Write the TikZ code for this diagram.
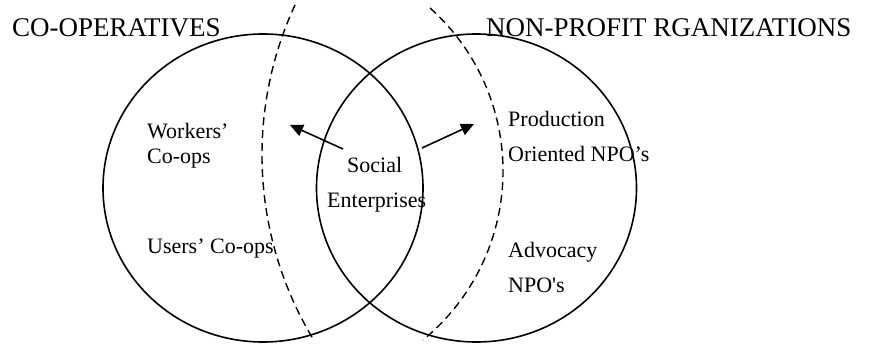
\documentclass[tikz,border=0pt]{standalone}
\usepackage{fontspec}
\setmainfont{Liberation Serif}
\usetikzlibrary{arrows.meta}
\begin{document}
\begin{tikzpicture}[x=1pt,y=1pt,
  ring/.style={line width=1.6pt},
  divider/.style={line width=1.4pt, dash pattern=on 8pt off 5pt},
  pointer/.style={line width=1.6pt,-{Triangle[length=13pt,width=12pt]}},
  big/.style={font=\fontsize{27}{31}\selectfont, inner sep=0pt, anchor=base west},
  small/.style={font=\fontsize{22}{26}\selectfont, inner sep=0pt, anchor=base west}]
\useasboundingbox (0,0) rectangle (870,-345);
\draw[ring] (263,-188) ellipse [x radius=160, y radius=154];
\draw[ring] (476.5,-188) ellipse [x radius=160, y radius=154];
\draw[divider] (295,-5) arc[start angle=155.16, end angle=211.33, radius=357];
\draw[divider] (430,-8) arc[start angle=48.25, end angle=-50.67, radius=218.5];
\node[big] (coop) at (12,-37) {CO-OPERATIVES};
\node[big] (npo) at (486,-37) {NON-PROFIT RGANIZATIONS};
\node[small] (w1) at (147,-138) {Workers’};
\node[small] (w2) at (147,-163) {Co-ops};
\node[small] (u1) at (147,-253) {Users’ Co-ops};
\node[small] (s1) at (347,-172) {Social};
\node[small] (s2) at (327,-207) {Enterprises};
\node[small] (p1) at (508,-126) {Production};
\node[small] (p2) at (508,-161) {Oriented NPO’s};
\node[small] (a1) at (508,-257) {Advocacy};
\node[small] (a2) at (508,-292) {NPO\textquotesingle s};
\coordinate (lstart) at (343,-149);
\coordinate (ltip) at (290,-125);
\coordinate (rstart) at (422,-148);
\coordinate (rtip) at (474,-124);
\draw[pointer] (lstart) -- (ltip);
\draw[pointer] (rstart) -- (rtip);
\end{tikzpicture}
\end{document}
